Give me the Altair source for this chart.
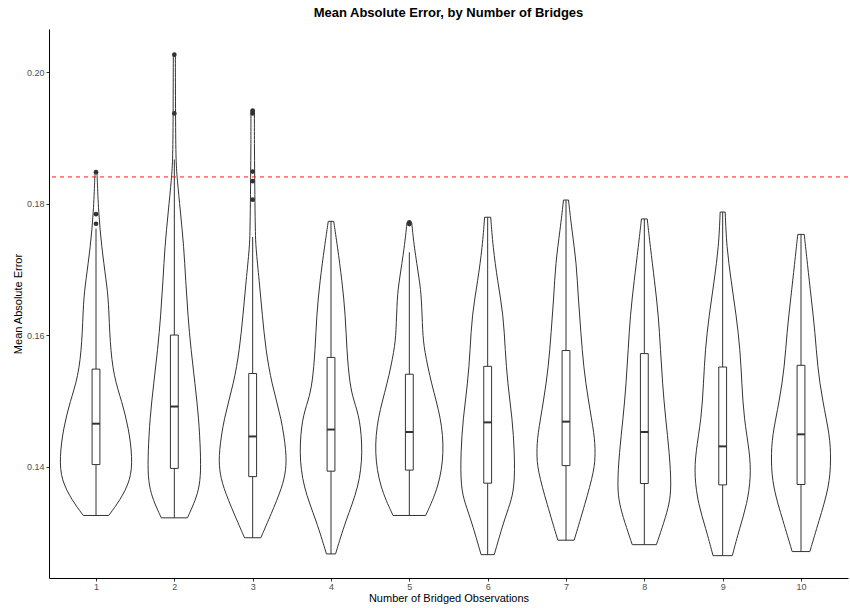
import altair as alt
import pandas as pd

GROUPS = list(range(1, 11))

# Violin outlines: MAE value (bottom to top) and half-width in category units
VIOLIN_VALUES = {
    1: [0.13261, 0.13486, 0.13799, 0.14139, 0.14583, 0.15001, 0.15367, 0.15890, 0.16517, 0.16830, 0.17353, 0.17876, 0.18398, 0.18482],
    2: [0.13225, 0.13381, 0.13590, 0.13852, 0.14218, 0.14740, 0.15263, 0.15785, 0.16308, 0.16830, 0.17353, 0.17876, 0.18398, 0.18675, 0.19444, 0.20269],
    3: [0.12922, 0.13277, 0.13695, 0.13956, 0.14218, 0.14740, 0.15263, 0.15785, 0.16308, 0.16830, 0.17353, 0.17562, 0.17876, 0.18398, 0.18921, 0.19420],
    4: [0.12676, 0.13172, 0.13695, 0.14218, 0.14740, 0.15001, 0.15263, 0.15785, 0.16308, 0.16830, 0.17353, 0.17735],
    5: [0.13261, 0.13695, 0.14218, 0.14740, 0.15263, 0.15785, 0.16047, 0.16569, 0.16830, 0.17353, 0.17719],
    6: [0.12665, 0.13172, 0.13434, 0.13695, 0.14218, 0.14740, 0.15263, 0.15785, 0.16308, 0.16830, 0.17353, 0.17797],
    7: [0.12885, 0.13434, 0.13956, 0.14218, 0.14479, 0.15001, 0.15524, 0.16047, 0.16569, 0.17092, 0.17614, 0.18059],
    8: [0.12817, 0.13172, 0.13434, 0.13695, 0.14218, 0.14740, 0.15263, 0.15785, 0.16308, 0.16830, 0.17353, 0.17771],
    9: [0.12650, 0.13068, 0.13434, 0.13852, 0.14218, 0.14740, 0.15263, 0.15785, 0.16308, 0.16830, 0.17353, 0.17876],
    10: [0.12712, 0.13172, 0.13695, 0.14113, 0.14479, 0.15001, 0.15524, 0.16047, 0.16569, 0.17092, 0.17536],
}
VIOLIN_HALFWIDTH = {
    1: [0.162, 0.303, 0.444, 0.465, 0.418, 0.329, 0.227, 0.177, 0.162, 0.130, 0.071, 0.032, 0.015, 0.013],
    2: [0.167, 0.227, 0.299, 0.338, 0.335, 0.312, 0.264, 0.212, 0.173, 0.145, 0.121, 0.078, 0.035, 0.019, 0.015, 0.013],
    3: [0.104, 0.234, 0.379, 0.426, 0.431, 0.368, 0.242, 0.167, 0.123, 0.084, 0.039, 0.035, 0.030, 0.026, 0.022, 0.022],
    4: [0.058, 0.184, 0.357, 0.407, 0.368, 0.292, 0.238, 0.201, 0.184, 0.141, 0.082, 0.035],
    5: [0.208, 0.377, 0.446, 0.407, 0.281, 0.190, 0.169, 0.156, 0.130, 0.061, 0.030],
    6: [0.084, 0.206, 0.286, 0.344, 0.344, 0.314, 0.255, 0.223, 0.201, 0.126, 0.067, 0.039],
    7: [0.104, 0.242, 0.364, 0.374, 0.364, 0.286, 0.223, 0.190, 0.156, 0.134, 0.074, 0.032],
    8: [0.154, 0.255, 0.318, 0.346, 0.320, 0.271, 0.232, 0.206, 0.180, 0.130, 0.076, 0.037],
    9: [0.123, 0.216, 0.312, 0.361, 0.346, 0.271, 0.245, 0.223, 0.173, 0.108, 0.050, 0.032],
    10: [0.113, 0.227, 0.361, 0.383, 0.368, 0.275, 0.210, 0.180, 0.130, 0.082, 0.041],
}

# Box plot statistics per number of bridged observations
WHISKER_LO = [0.13261, 0.13225, 0.12922, 0.12676, 0.13261, 0.12665, 0.12885, 0.12817, 0.12650, 0.12712]
Q1 = [0.14035, 0.13977, 0.13852, 0.13935, 0.13951, 0.13752, 0.14019, 0.13747, 0.13726, 0.13732]
MEDIAN = [0.14657, 0.14918, 0.14463, 0.14568, 0.14531, 0.14677, 0.14688, 0.14531, 0.14312, 0.14495]
Q3 = [0.15487, 0.16005, 0.15420, 0.15665, 0.15409, 0.15529, 0.15770, 0.15723, 0.15519, 0.15545]
WHISKER_HI = [0.17625, 0.18675, 0.17499, 0.17735, 0.17264, 0.17797, 0.18059, 0.17771, 0.17876, 0.17536]
OUTLIERS = {
    1: [0.17698, 0.17844, 0.18482],
    2: [0.19376, 0.20269],
    3: [0.18064, 0.18346, 0.18492, 0.19376, 0.19420],
    5: [0.17693, 0.17719],
}

REFERENCE_MAE = 0.1841

violin_df = pd.DataFrame(
    [
        {"grp": g, "value": v, "hw": w}
        for g in GROUPS
        for v, w in zip(VIOLIN_VALUES[g], VIOLIN_HALFWIDTH[g])
    ]
)
box_df = pd.DataFrame(
    {"grp": GROUPS, "lo": WHISKER_LO, "q1": Q1, "med": MEDIAN, "q3": Q3, "hi": WHISKER_HI}
)
out_df = pd.DataFrame(
    [{"grp": g, "value": v} for g, vals in OUTLIERS.items() for v in vals]
)
ref_df = pd.DataFrame({"ref": [REFERENCE_MAE]})

FONT = "Liberation Sans"
INK = "#333333"
BOX_HALF = 0.05

xscale = alt.Scale(domain=[0.4, 10.6], nice=False, zero=False)
yscale = alt.Scale(domain=[0.1231, 0.2066], nice=False, zero=False)
xaxis = alt.Axis(values=GROUPS, format="d", title="Number of Bridged Observations")
yaxis = alt.Axis(values=[0.14, 0.16, 0.18, 0.20], format=".2f", title="Mean Absolute Error")


def X(field):
    return alt.X(field, type="quantitative", scale=xscale, axis=xaxis)


def Y(field):
    return alt.Y(field, type="quantitative", scale=yscale, axis=yaxis)


violins = (
    alt.Chart(violin_df)
    .transform_calculate(left="datum.grp - datum.hw", right="datum.grp + datum.hw")
    .mark_area(orient="horizontal", interpolate="basis", fill="white",
               stroke=INK, strokeWidth=1)
    .encode(y=Y("value"), x=X("left"), x2="right:Q", detail="grp:N")
)

whiskers = (
    alt.Chart(box_df)
    .mark_rule(color=INK, strokeWidth=1)
    .encode(x=X("grp"), y=Y("lo"), y2="hi:Q")
)

boxes = (
    alt.Chart(box_df)
    .transform_calculate(bl=f"datum.grp - {BOX_HALF}", br=f"datum.grp + {BOX_HALF}")
    .mark_rect(fill="white", stroke=INK, strokeWidth=1)
    .encode(x=X("bl"), x2="br:Q", y=Y("q1"), y2="q3:Q")
)

medians = (
    alt.Chart(box_df)
    .transform_calculate(bl=f"datum.grp - {BOX_HALF}", br=f"datum.grp + {BOX_HALF}")
    .mark_rule(color=INK, strokeWidth=2)
    .encode(x=X("bl"), x2="br:Q", y=Y("med"))
)

outliers = (
    alt.Chart(out_df)
    .mark_circle(color=INK, opacity=1, size=22)
    .encode(x=X("grp"), y=Y("value"))
)

ref_line = (
    alt.Chart(ref_df)
    .mark_rule(color="#FF1A1A", strokeWidth=1, strokeDash=[4, 4])
    .encode(y=Y("ref"))
)

chart = (
    alt.layer(violins, whiskers, boxes, medians, outliers, ref_line)
    .properties(
        width=799,
        height=549,
        autosize=alt.AutoSizeParams(type="none"),
        padding={"left": 49, "top": 29, "right": 2, "bottom": 30},
        title=alt.TitleParams(
            "Mean Absolute Error, by Number of Bridges",
            font=FONT, fontSize=13, fontWeight="bold", color="black",
            anchor="middle", offset=9,
        ),
    )
    .configure_view(stroke="transparent")
    .configure_axis(
        grid=False,
        domainColor="black",
        domainWidth=1,
        tickColor=INK,
        tickSize=3,
        tickWidth=1,
        labelFont=FONT,
        labelFontSize=9,
        labelColor="#4D4D4D",
        labelPadding=2,
        titleFont=FONT,
        titleFontSize=11,
        titleFontWeight="normal",
        titleColor="black",
    )
    .configure_axisY(titlePadding=3)
    .configure_axisX(titlePadding=1, labelPadding=1)
)

chart.save("out.html", embed_options={"renderer": "svg", "actions": False})
